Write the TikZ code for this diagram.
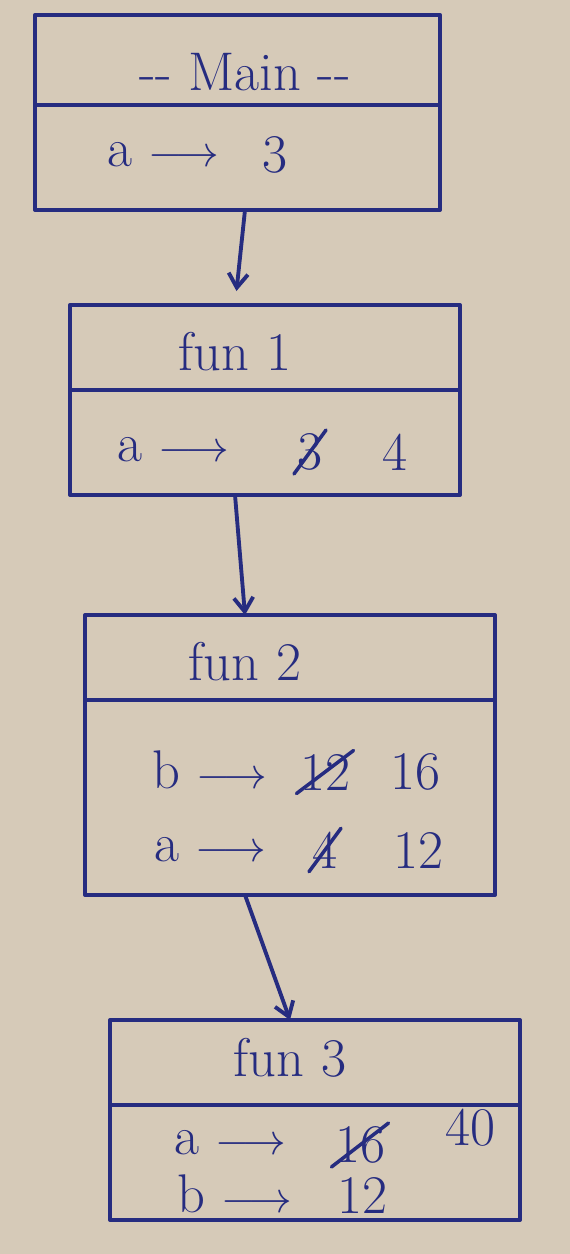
\documentclass[tikz,border=0pt]{standalone}
\usepackage{amsmath}
\usepackage{tikz}
\usetikzlibrary{arrows.meta,shapes.misc,positioning}
\definecolor{paper}{RGB}{214,202,184}
\definecolor{ink}{RGB}{38,44,128}

\begin{document}
\begin{tikzpicture}[x=0.02cm,y=-0.02cm,line cap=round,line join=round,>={Straight Barb[length=8pt,width=11pt]},
    font=\fontsize{31}{36}\selectfont,
    frame/.style={draw=ink,line width=2.4pt,outer sep=0pt,inner sep=0pt},
    txt/.style={text=ink,inner sep=1pt},
    old/.style={txt,strike out,draw=ink,line width=2pt},
    link/.style={->,ink,line width=2.2pt}]
    \fill[paper] (0,0) rectangle (570,1254);
    \node[frame,minimum width=8.1cm,minimum height=1.8cm] (mainhead) at (237.5,60) {};
    \node[frame,minimum width=8.1cm,minimum height=2.1cm,below=0pt of mainhead] (mainbody) {};
    \node[txt] (mainname) at (245,72) {-{}-~Main~-{}-};
    \node[txt,anchor=west] (maina) at (105,155) {a~$\longrightarrow$};
    \node[txt] (mainaval) at (275,155) {3};

    \node[frame,minimum width=7.8cm,minimum height=1.7cm] (funAhead) at (265,347.5) {};
    \node[frame,minimum width=7.8cm,minimum height=2.1cm,below=0pt of funAhead] (funAbody) {};
    \node[txt] (funAname) at (235,352) {fun 1};
    \node[txt,anchor=west] (funAa) at (115,450) {a~$\longrightarrow$};
    \node[old] (funAaold) at (310,452) {3};
    \node[txt] (funAanew) at (395,452) {4};

    \node[frame,minimum width=8.2cm,minimum height=1.7cm] (funBhead) at (290,657.5) {};
    \node[frame,minimum width=8.2cm,minimum height=3.9cm,below=0pt of funBhead] (funBbody) {};
    \node[txt] (funBname) at (245,662) {fun 2};
    \node[txt,anchor=west] (funBb) at (150,770) {b~$\longrightarrow$};
    \node[old] (funBbold) at (325,772) {12};
    \node[txt] (funBbnew) at (415,772) {16};
    \node[txt,anchor=west] (funBa) at (152,850) {a~$\longrightarrow$};
    \node[old] (funBaold) at (325,850) {4};
    \node[txt] (funBanew) at (418,850) {12};

    \node[frame,minimum width=8.2cm,minimum height=1.7cm] (funChead) at (315,1062.5) {};
    \node[frame,minimum width=8.2cm,minimum height=2.3cm,below=0pt of funChead] (funCbody) {};
    \node[txt] (funCname) at (290,1058) {fun 3};
    \node[txt] (funCanew) at (470,1128) {40};
    \node[txt,anchor=west] (funCa) at (172,1143) {a~$\longrightarrow$};
    \node[old] (funCaold) at (360,1145) {16};
    \node[txt,anchor=west] (funCb) at (175,1194) {b~$\longrightarrow$};
    \node[txt] (funCbval) at (362,1195) {12};

    \draw[link,shorten >=8pt] (mainbody.south -| mainname) -- (funAhead.north -| funAname);
    \draw[link] (funAbody.south -| funAname) -- (funBhead.north -| funBname);
    \draw[link] (funBbody.south -| funBname) -- (funChead.north -| funCname);
\end{tikzpicture}
\end{document}
